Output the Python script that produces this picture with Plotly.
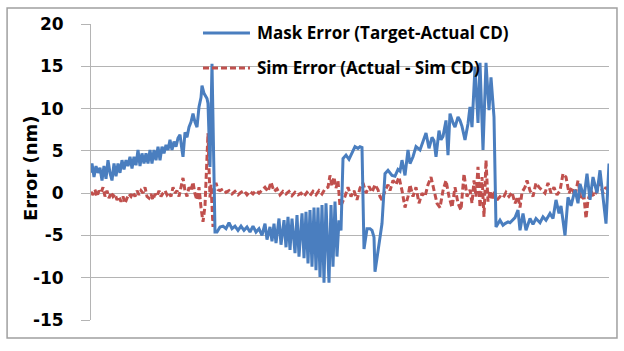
import plotly.graph_objects as go

# Measurement site index (horizontal position along the scan) and errors in nm
mask_idx = [0, 1, 3, 5, 7, 9, 11, 13, 15, 17, 19, 21, 23, 25, 27, 29, 31, 33, 35, 37,
            39, 41, 43, 45, 47, 49, 51, 53, 55, 57, 59, 61, 63, 65, 67, 69, 71, 73, 75, 77,
            79, 81, 83, 85, 87, 89, 91, 92, 94, 96, 98, 100, 102, 104, 106, 108, 110, 111, 113, 116,
            117, 119, 121, 124,
            126, 129, 132, 135, 138, 141, 144, 147, 150, 153, 156, 159, 162, 165, 168, 171, 174, 176, 179, 181,
            183, 185, 188, 190, 193, 195, 197, 199, 201, 204, 206, 208, 211, 213, 215, 217, 219, 221, 223, 225,
            227, 229, 231, 233, 235, 238, 240, 242, 244, 246, 248, 250, 252, 255, 258, 261, 264, 267, 269, 271,
            273, 276, 279, 281, 283, 284, 288, 291, 294, 297, 301, 304, 307, 309, 311, 314, 317, 319, 322, 325,
            329, 332, 335, 338, 341, 343, 345, 348, 350, 352, 355, 357, 359, 362, 364, 367, 369, 371, 374, 377,
            379, 381, 384, 387, 389, 392, 395, 398, 400, 403, 405, 409, 412, 414, 417, 419, 422, 424, 427, 429,
            432, 435, 439, 442, 445, 449, 452, 455, 459, 462, 465, 468, 470, 474, 477, 480, 484, 487, 489, 493,
            496, 499, 502, 506, 509, 512, 515, 518]
mask_err = [2.4, 3.5, 1.9, 3.2, 2.4, 3.0, 1.5, 3.2, 1.7, 3.9, 2.4, 1.5, 3.5, 2.0, 3.5, 2.4, 3.9, 2.8, 3.9, 3.2,
            4.3, 2.9, 4.3, 3.3, 5.1, 3.2, 4.7, 3.5, 4.7, 3.5, 5.1, 3.5, 5.1, 3.9, 5.5, 3.9, 5.5, 4.7, 5.7, 5.1,
            6.3, 5.1, 6.1, 5.5, 6.5, 6.9, 5.1, 4.3, 7.2, 6.6, 7.8, 8.4, 9.4, 8.4, 7.8, 10.2, 11.3, 12.7, 11.8, 11.2,
            10.6, 3.1, 15.3, -4.6,
            -4.6, -4.0, -3.9, -4.2, -3.5, -4.2, -3.9, -4.4, -3.9, -4.4, -4.0, -4.6, -3.9, -4.6, -4.2, -5.0, -3.6, -5.5, -4.0, -5.7,
            -3.6, -5.9, -3.0, -6.1, -3.2, -6.4, -2.8, -6.7, -3.0, -7.1, -2.6, -7.5, -2.4, -7.7, -2.2, -8.3, -2.0, -8.7, -1.7, -9.1,
            -1.7, -9.9, -1.4, -10.6, -1.2, -10.6, -1.4, -8.7, -1.0, -7.5, -3.2, -4.4, 4.1, 4.5, 4.0, 4.8, 5.5, 5.3, 5.5, 5.4,
            -6.6, -4.2, -4.2, -4.4, -5.2, -9.3, -5.9, -3.6, 2.3, 2.7, 2.1, 2.0, 2.8, 2.6, 3.9, 2.1, 5.1, 3.5, 4.3, 5.5,
            5.1, 6.0, 7.1, 5.3, 6.6, 6.2, 4.3, 7.4, 6.3, 6.7, 8.6, 4.5, 9.4, 8.3, 7.8, 9.0, 8.6, 7.9, 6.3, 8.2,
            10.2, 7.8, 14.9, 8.3, 15.4, 5.1, 15.4, 9.8, 13.7, 9.0, -4.0, -3.2, -3.8, -3.6, -3.4, -3.5, -3.2, -2.9, -2.0, -4.4,
            -2.4, -4.4, -3.0, -3.7, -3.0, -3.5, -2.8, -3.2, -2.4, -3.0, -0.8, -2.4, -1.5, -5.0, -0.5, -1.5, 0.4, -1.2, 1.1, -0.5,
            2.3, -0.8, 1.9, 0.0, 2.7, -0.2, -3.6, 3.5]

sim_idx = [0, 2, 4, 6, 8, 10, 12, 14, 16, 18, 20, 22, 24, 26, 28, 30, 32, 34, 36, 38,
           40, 42, 44, 46, 48, 50, 52, 54, 56, 58, 60, 62, 64, 66, 68, 70, 72, 74, 76, 78,
           80, 82, 84, 86, 88, 90, 92, 94, 96, 98, 100, 102, 104, 106, 108, 110, 112, 114, 116, 117,
           118, 119, 120, 121, 122, 123, 125, 127, 129, 132, 135, 138, 141, 144, 147, 150, 153, 156, 159, 162,
           165, 168, 171, 174, 177, 180, 183, 186, 189, 192, 195, 198, 201, 204, 207, 210, 213, 216, 219, 222,
           225, 228, 231, 234, 237, 239, 241, 243, 245, 247, 249, 251, 254, 257, 260, 263, 266, 269, 272, 275,
           278, 281, 284, 287, 289, 291, 294, 297, 299, 302, 305, 308, 311, 314, 317, 319, 322, 325, 328, 331,
           334, 337, 340, 343, 346, 349, 352, 355, 358, 361, 364, 367, 370, 373, 376, 379, 381, 383, 385, 387,
           389, 391, 393, 395, 397, 399, 401, 403, 406, 409, 412, 415, 418, 421, 424, 427, 429, 431, 434, 436,
           439, 442, 445, 448, 451, 454, 457, 460, 463, 466, 469, 472, 475, 478, 481, 484, 487, 490, 493, 495,
           497, 500, 503, 506, 509, 512, 515, 518]
sim_err = [0.15, -0.2, 0.4, -0.4, 0.3, 0.0, 0.7, -0.4, 0.3, -0.6, 0.1, -0.4, -0.1, -0.8, -0.4, -1.0, -0.4, -1.2, -0.6, -0.1,
           -0.4, 0.1, -0.4, 0.3, -0.2, 0.3, 0.0, 0.7, -0.4, -0.6, -0.1, -0.8, -0.1, -0.4, 0.3, -0.4, 0.0, 0.3, -0.2, 0.1,
           -0.4, 0.7, 0.0, 0.3, -0.4, 0.7, 1.8, 0.3, -0.4, 0.7, 0.3, 1.3, -0.1, -0.8, 0.7, -1.7, -3.4, -1.5, 3.5, 7.1,
           3.0, -0.5, 1.0, -3.0, -4.0, 0.4, 1.2, 0.4, 0.3, 0.5, 0.1, 0.3, -0.1, 0.2, -0.2, 0.1, 0.3, -0.2, 0.2, -0.1,
           0.3, 0.0, 0.4, 0.7, 0.2, 1.3, 0.2, 0.5, -0.2, 0.2, -0.1, 0.2, -0.3, 0.1, -0.2, 0.0, -0.4, 0.1, -0.3, 0.2,
           -0.2, 0.3, -0.1, 0.5, 0.7, 2.1, 0.8, 1.9, 0.6, 1.5, -1.6, -1.2, -0.4, 0.7, -0.4, 0.3, -0.8, 0.6, 1.2, 0.0,
           0.8, 0.1, 1.0, 0.4, -0.4, -0.8, 0.3, 1.0, 0.3, 1.5, 1.0, 1.9, 0.3, -1.7, -0.4, 1.0, -0.4, 0.7, -1.2, 0.0,
           -0.4, 1.0, 1.9, 0.3, -1.2, -1.7, 0.3, 1.5, -0.4, -1.7, 0.7, -1.2, -2.0, 2.3, -0.4, 0.4, -1.2, 1.5, -0.4, 3.1,
           -1.7, 1.9, -2.8, 3.9, -1.0, 0.3, -0.8, 0.3, -0.8, -0.4, -0.6, 0.1, -0.4, 0.1, -1.2, -0.4, -1.7, 0.1, 0.7, 1.5,
           0.3, -0.4, 1.2, 0.7, 0.3, 0.0, 1.2, 0.0, 0.7, -0.2, 0.3, 2.3, 1.9, 0.0, 0.7, -0.4, 1.5, -0.8, -0.4, -3.0,
           -0.8, 0.3, -0.4, 0.3, 1.2, 0.0, 0.7, 0.1]

y_ticks = [-15, -10, -5, 0, 5, 10, 15, 20]
y_tick_labels = ["-15", "-10", "-5", "0", "5", "10", "15", "20"]
series_names = ["Mask Error (Target-Actual CD)", "Sim Error (Actual - Sim CD)"]
y_title = "Error (nm)"

BLUE = "#4A7EBF"
RED = "#C0504D"
GRID = "#B4B4B4"

fig = go.Figure()
fig.add_trace(go.Scatter(x=sim_idx, y=sim_err, mode="lines", name=series_names[1],
                         line=dict(color=RED, width=3, dash="6px,3px")))
fig.add_trace(go.Scatter(x=mask_idx, y=mask_err, mode="lines", name=series_names[0],
                         line=dict(color=BLUE, width=3)))

legend_font = dict(family="Open Sans", size=17, color="black", weight="bold")

fig.update_layout(
    width=624, height=351,
    margin=dict(l=91, r=15, t=24, b=31),
    paper_bgcolor="white", plot_bgcolor="white",
    showlegend=False,
    xaxis=dict(range=[0, 518], showgrid=False, zeroline=False, showticklabels=False,
               ticks="", showline=False, fixedrange=True),
    yaxis=dict(range=[-15, 20], tickvals=y_ticks, ticktext=y_tick_labels,
               showgrid=True, gridcolor=GRID, gridwidth=1,
               zeroline=False, showline=True, linecolor=GRID, linewidth=1,
               ticks="outside", ticklen=9, tickcolor=GRID, tickwidth=1,
               ticklabelstandoff=14,
               tickfont=dict(family="DejaVu Sans", size=17, color="black", weight="bold")),
    shapes=[
        dict(type="rect", xref="paper", yref="paper", x0=-0.162, x1=1.0154, y0=-0.0608, y1=1.054,
             line=dict(color="#A0A0A0", width=1.5), layer="below"),
        dict(type="line", xref="paper", yref="paper", x0=0.2162, x1=0.3069, y0=0.9696, y1=0.9696,
             line=dict(color=BLUE, width=3)),
        dict(type="line", xref="paper", yref="paper", x0=0.2162, x1=0.3069, y0=0.8514, y1=0.8514,
             line=dict(color=RED, width=3, dash="6px,3px")),
    ],
    annotations=[
        dict(text=series_names[0], xref="paper", yref="paper", x=0.3166, y=0.9696,
             xanchor="left", yanchor="middle", showarrow=False, font=legend_font),
        dict(text=series_names[1], xref="paper", yref="paper", x=0.3166, y=0.8514,
             xanchor="left", yanchor="middle", showarrow=False, font=legend_font),
        dict(text=y_title, xref="paper", yref="paper", x=-0.1178, y=0.5135, textangle=-90,
             xanchor="center", yanchor="middle", showarrow=False,
             font=dict(family="DejaVu Sans", size=18, color="black", weight="bold")),
    ],
)

fig.write_html("out.html")
